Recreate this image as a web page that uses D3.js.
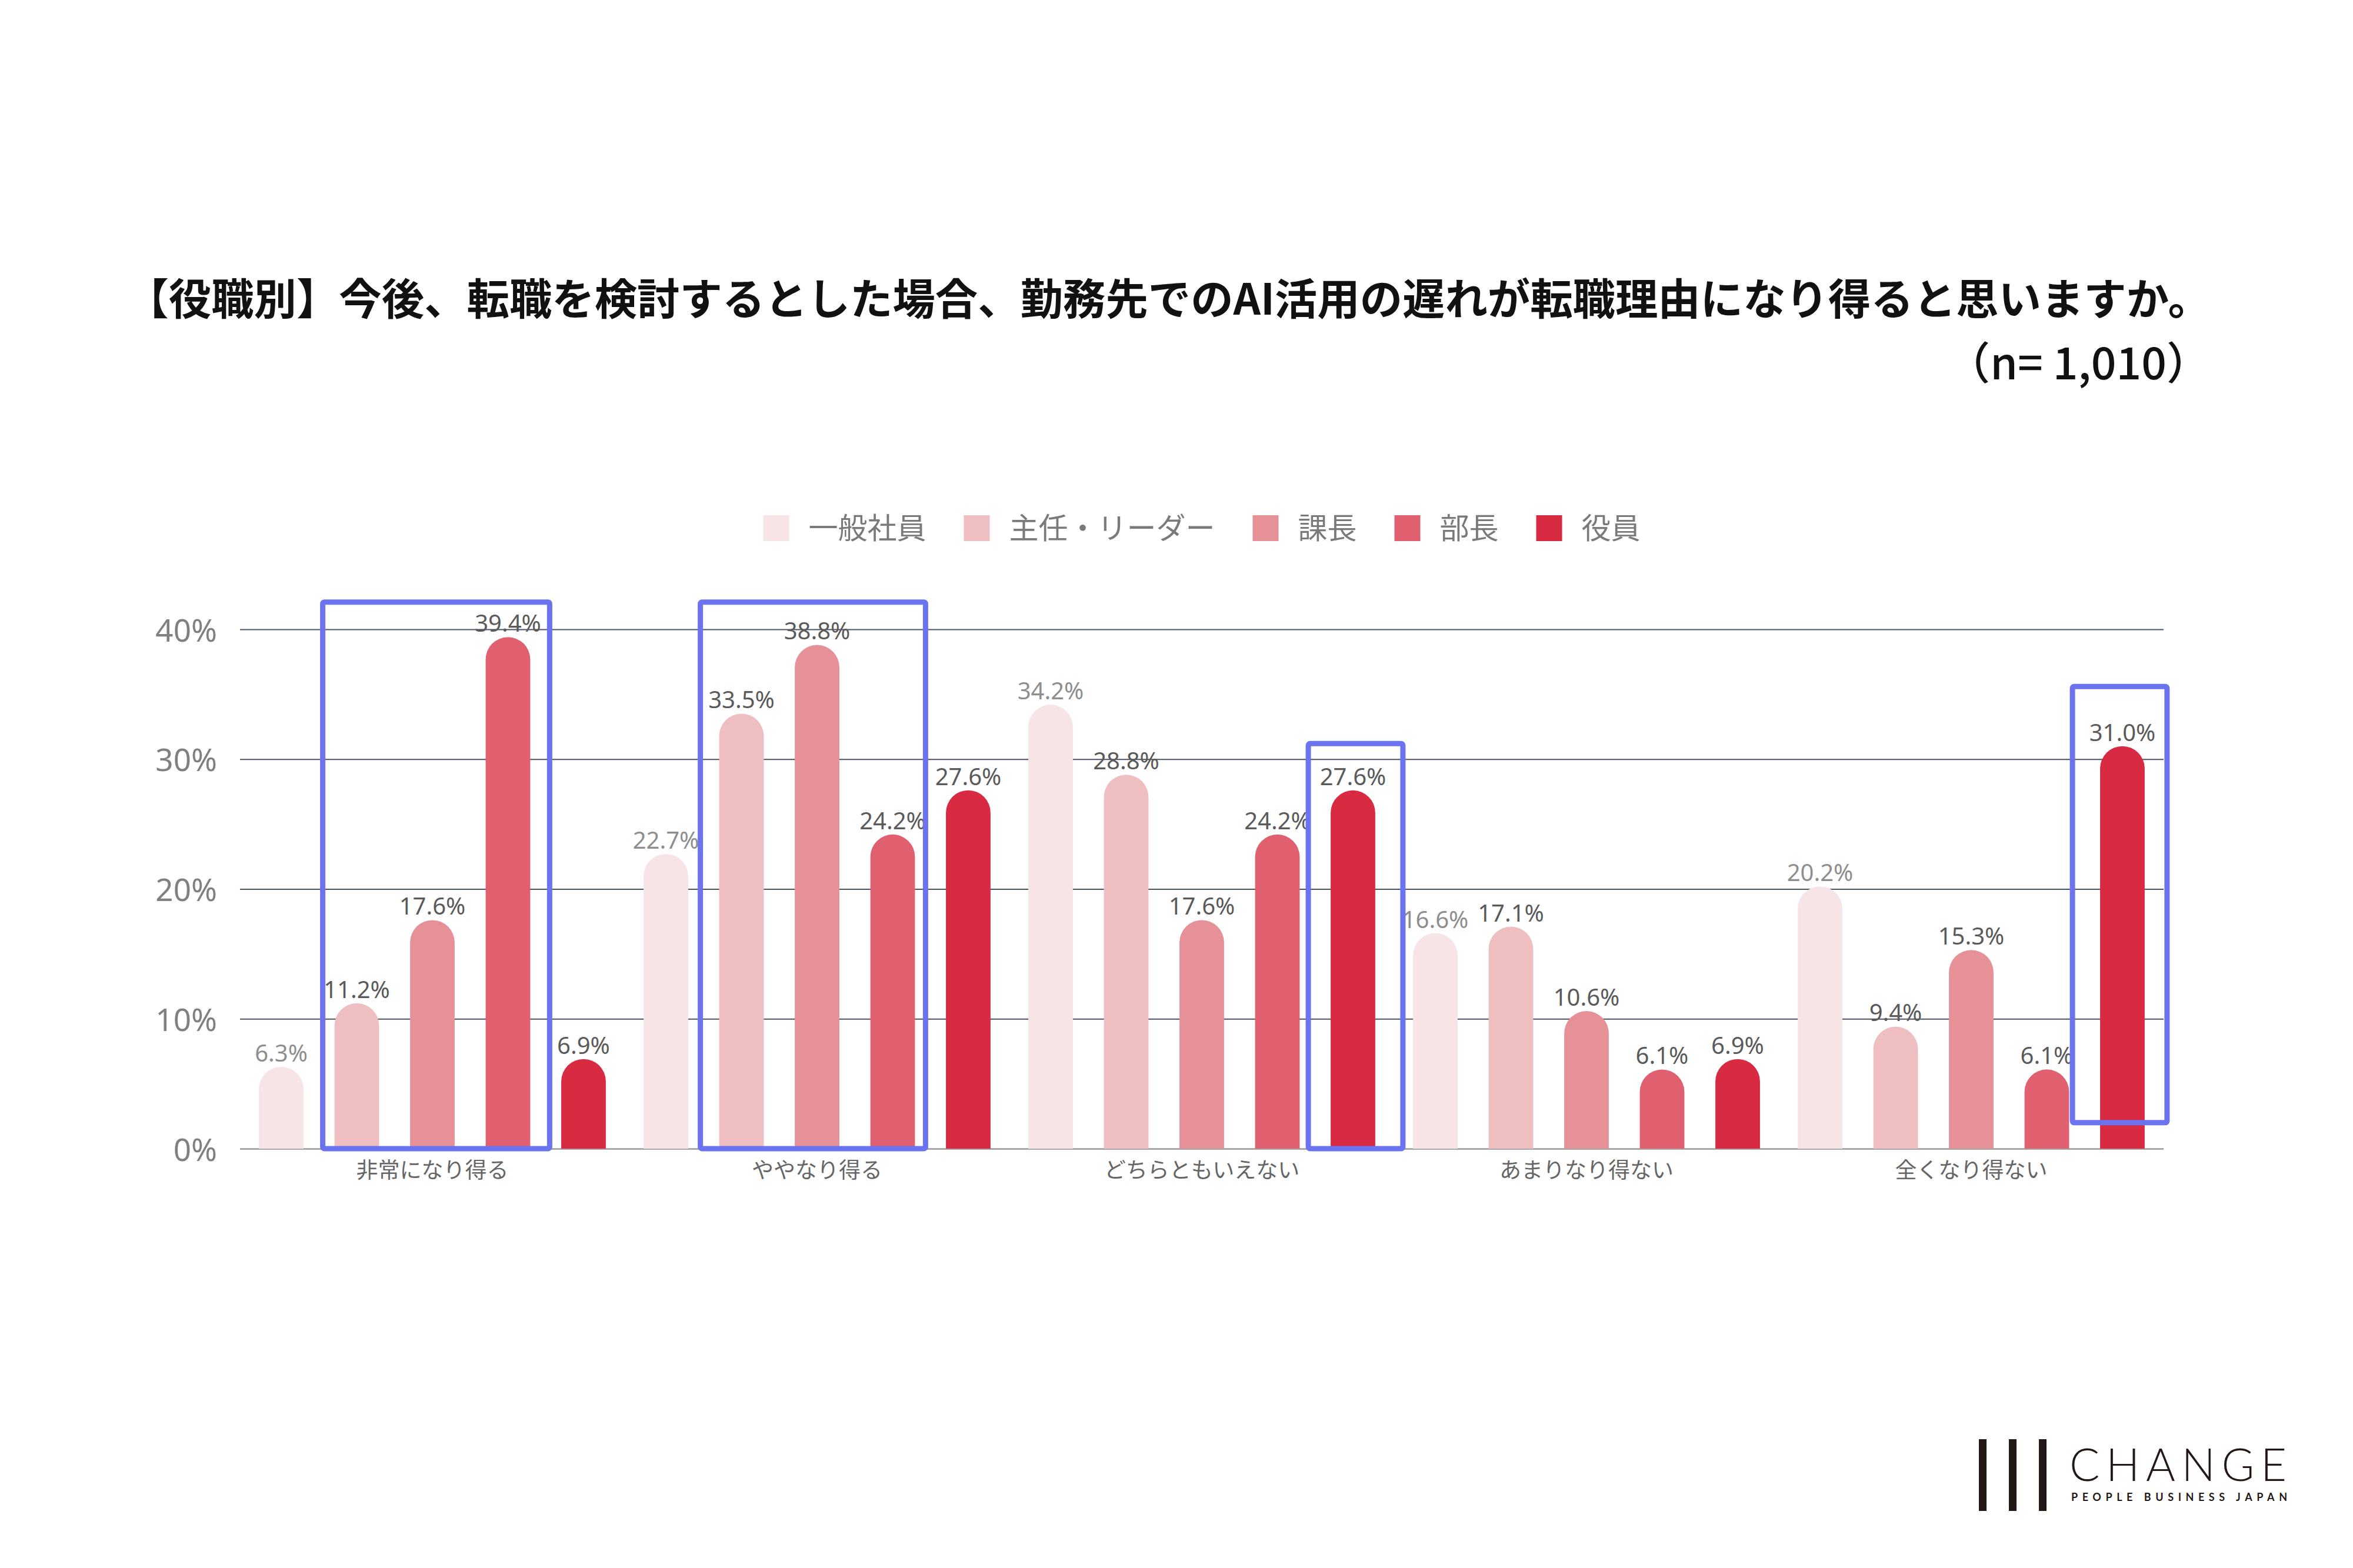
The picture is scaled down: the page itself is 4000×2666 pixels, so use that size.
<!DOCTYPE html>
<html>
<head>
<meta charset="utf-8">
<script src="https://cdn.jsdelivr.net/npm/d3@7"></script>
<style>
body { margin: 0; background: #fff; }
</style>
</head>
<body>
<svg id="chart" width="4000" height="2666"></svg>
<script>
// data (n = 1,010)
var categories = ["非常になり得る", "ややなり得る", "どちらともいえない", "あまりなり得ない", "全くなり得ない"];
var series = ["一般社員", "主任・リーダー", "課長", "部長", "役員"];
var ippan = [6.3, 22.7, 34.2, 16.6, 20.2];
var shunin = [11.2, 33.5, 28.8, 17.1, 9.4];
var kacho = [17.6, 38.8, 17.6, 10.6, 15.3];
var bucho = [39.4, 24.2, 24.2, 6.1, 6.1];
var yakuin = [6.9, 27.6, 27.6, 6.9, 31.0];
var yTicks = [0, 10, 20, 30, 40];
// highlighted groups: category, first/last series index, top/bottom in %
var highlights = [
    {cat: "非常になり得る", from: 1, to: 3, top: 42.1, bottom: 0},
    {cat: "ややなり得る", from: 1, to: 3, top: 42.1, bottom: 0},
    {cat: "どちらともいえない", from: 4, to: 4, top: 31.2, bottom: 0},
    {cat: "全くなり得ない", from: 4, to: 4, top: 35.6, bottom: 2.0}
];

var values = [ippan, shunin, kacho, bucho, yakuin];
var colors = ["#f7e4e6", "#efbec1", "#e69198", "#e0606f", "#d82a41"];
var jpFont = "'Noto Sans CJK JP', sans-serif";
var numFont = "'Noto Sans', sans-serif";

var svg = d3.select("#chart");
svg.append("rect").attr("width", 4000).attr("height", 2666).attr("fill", "#fff");

var plotLeft = 408, plotRight = 3678, plotTop = 1070, plotBottom = 1953;

var x0 = d3.scaleBand().domain(categories).range([plotLeft, plotRight]);
var x1 = d3.scaleBand().domain(series).range([0, x0.bandwidth()])
    .paddingInner(0.41).paddingOuter(0.25);
var y = d3.scaleLinear().domain([0, 40]).range([plotBottom, plotTop]);

// title
svg.append("text")
    .text("【役職別】今後、転職を検討するとした場合、勤務先でのAI活用の遅れが転職理由になり得ると思いますか。")
    .attr("x", 3758).attr("y", 535)
    .attr("text-anchor", "end")
    .attr("font-family", jpFont).attr("font-weight", 700)
    .attr("font-size", 72.4).attr("fill", "#111");
svg.append("text")
    .text("（n= 1,010）")
    .attr("x", 3758).attr("y", 645)
    .attr("text-anchor", "end")
    .attr("font-family", jpFont).attr("font-weight", 500)
    .attr("font-size", 75).attr("fill", "#111");

// gridlines + y labels
var yAxis = d3.axisLeft(y).tickValues(yTicks)
    .tickSize(-(plotRight - plotLeft)).tickPadding(39)
    .tickFormat(function(d){ return d + "%"; });
var gy = svg.append("g")
    .attr("class", "axis")
    .attr("transform", "translate(" + plotLeft + ",0)")
    .call(yAxis);
gy.select(".domain").remove();
gy.selectAll(".tick line")
    .attr("stroke", function(d){ return d == 0 ? "#a9a9a9" : "#4b5263"; })
    .attr("stroke-width", function(d){ return d == 0 ? 3 : 2.2; });
gy.selectAll(".tick text")
    .attr("fill", "#808080")
    .attr("font-size", 53)
    .attr("font-family", numFont)
    .attr("dy", "0.38em");

// category labels
var xAxis = d3.axisBottom(x0).tickSize(0).tickPadding(24);
var gx = svg.append("g")
    .attr("class", "axis")
    .attr("transform", "translate(0," + plotBottom + ")")
    .call(xAxis);
gx.select(".domain").remove();
gx.selectAll(".tick text")
    .attr("fill", "#666")
    .attr("font-size", 37)
    .attr("font-family", jpFont);

// bars with rounded tops
function roundTop(x, w, top, base){
    var r = w / 2;
    return "M" + x + "," + base + "V" + (top + r) +
        "A" + r + "," + r + " 0 0 1 " + (x + w) + "," + (top + r) +
        "V" + base + "Z";
}

var rows = [];
for (var i = 0; i < categories.length; i++){
    for (var j = 0; j < series.length; j++){
        rows.push({cat: categories[i], ser: series[j], j: j, v: values[j][i]});
    }
}

var bars = svg.append("g").attr("id", "bars");
bars.selectAll("path")
    .data(rows)
    .enter()
    .append("path")
    .attr("d", function(d){
        return roundTop(x0(d.cat) + x1(d.ser), x1.bandwidth(), y(d.v), y(0));
    })
    .attr("fill", function(d){ return colors[d.j]; });

var fmt = d3.format(".1f");
svg.append("g").attr("id", "labels")
    .selectAll("text")
    .data(rows)
    .enter()
    .append("text")
    .text(function(d){ return fmt(d.v) + "%"; })
    .attr("x", function(d){ return x0(d.cat) + x1(d.ser) + x1.bandwidth() / 2; })
    .attr("y", function(d){ return y(d.v) - 9; })
    .attr("text-anchor", "middle")
    .attr("font-family", numFont)
    .attr("font-size", 40)
    .attr("fill", function(d){ return d.j == 0 ? "#8e8e8e" : "#5a5a5a"; });

// blue highlight boxes (drawn by hand in the original, so uneven margins)
var boxPad = [[20, 33], [32, 18], [38, 47], [47, 38]];
svg.append("g").attr("id", "boxes")
    .selectAll("rect")
    .data(highlights)
    .enter()
    .append("rect")
    .attr("x", function(d, k){ return x0(d.cat) + x1(series[d.from]) - boxPad[k][0]; })
    .attr("width", function(d, k){
        return x1(series[d.to]) + x1.bandwidth() - x1(series[d.from]) + boxPad[k][0] + boxPad[k][1];
    })
    .attr("y", function(d){ return y(d.top); })
    .attr("height", function(d){ return y(d.bottom) - y(d.top); })
    .attr("rx", 3)
    .attr("fill", "none")
    .attr("stroke", "#6b73ee")
    .attr("stroke-width", 9);

// legend, centred over the plot
var legend = svg.append("g").attr("id", "legend");
var items = legend.selectAll("g")
    .data(series)
    .enter()
    .append("g");
items.append("rect")
    .attr("y", 876)
    .attr("width", 44).attr("height", 44)
    .attr("fill", function(d, k){ return colors[k]; });
items.append("text")
    .text(function(d){ return d; })
    .attr("x", 77).attr("y", 898).attr("dy", "0.36em")
    .attr("font-family", jpFont)
    .attr("font-size", 50)
    .attr("fill", "#7a7a7a");
var lx = 0;
var offsets = [];
items.each(function(){
    offsets.push(lx);
    var tw = d3.select(this).select("text").node().getComputedTextLength();
    lx += 77 + tw + 64;
});
var total = lx - 64;
var start = (plotLeft + plotRight) / 2 - total / 2;
items.attr("transform", function(d, k){ return "translate(" + (start + offsets[k]) + ",0)"; });

// CHANGE logo, bottom right
var logo = svg.append("g").attr("id", "logo");
[3364, 3415, 3466].forEach(function(bx){
    logo.append("rect").attr("x", bx).attr("y", 2447)
        .attr("width", 13).attr("height", 122).attr("fill", "#231815");
});
logo.append("text")
    .text("CHANGE")
    .attr("x", 3518).attr("y", 2518)
    .attr("textLength", 369).attr("lengthAdjust", "spacing")
    .attr("font-family", "Lato, sans-serif").attr("font-weight", 300)
    .attr("font-size", 76).attr("fill", "#231815");
logo.append("text")
    .text("PEOPLE  BUSINESS  JAPAN")
    .attr("x", 3521).attr("y", 2552)
    .attr("textLength", 367).attr("lengthAdjust", "spacing")
    .attr("font-family", "Lato, sans-serif").attr("font-weight", 700)
    .attr("font-size", 18).attr("fill", "#231815");
</script>
</body>
</html>
